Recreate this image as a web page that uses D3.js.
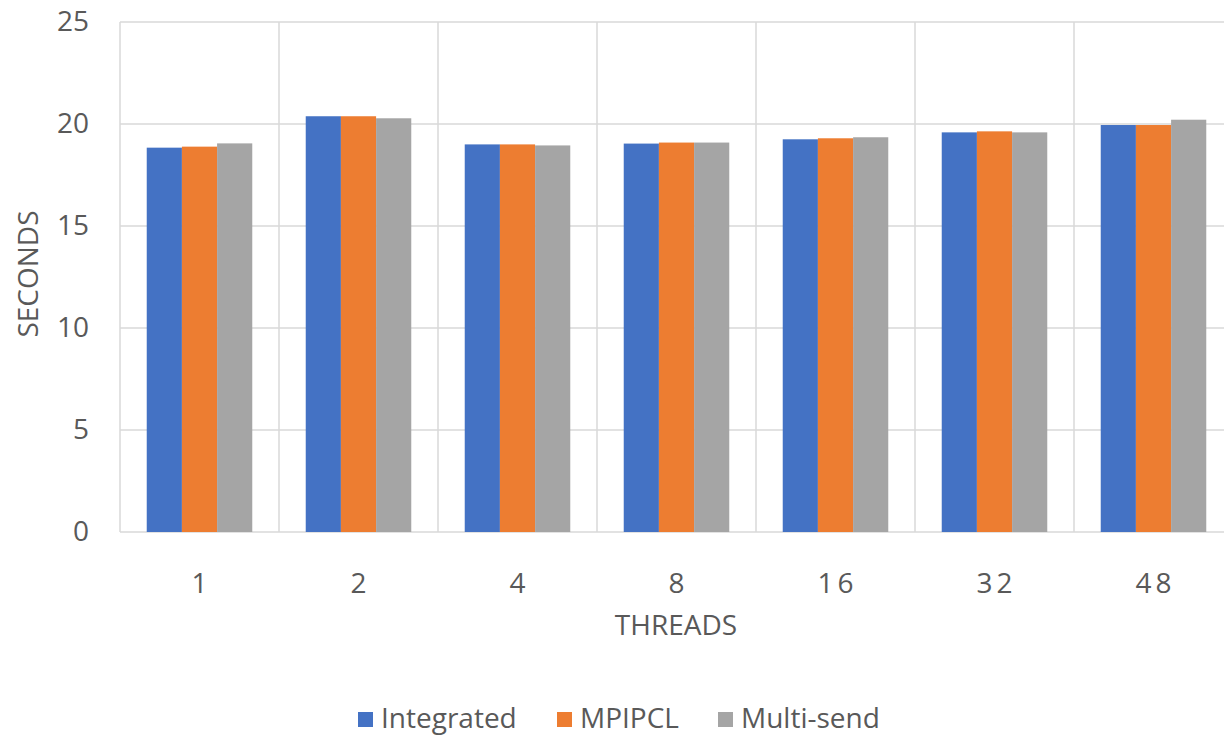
<!DOCTYPE html>
<html>
<head>
<meta charset="utf-8">
<script src="https://cdn.jsdelivr.net/npm/d3@7"></script>
<style>
  body { margin: 0; background: #fff; }
  text { font-family: "Open Sans", sans-serif; fill: #595959; }
</style>
</head>
<body>
<svg id="chart"></svg>
<script>
const CATEGORIES = ["1", "2", "4", "8", "16", "32", "48"];
const SERIES = ["Integrated", "MPIPCL", "Multi-send"];
const INTEGRATED = [18.84, 20.38, 19.00, 19.04, 19.25, 19.59, 19.95];
const MPIPCL     = [18.89, 20.38, 19.00, 19.09, 19.30, 19.64, 19.95];
const MULTISEND  = [19.05, 20.28, 18.95, 19.09, 19.35, 19.59, 20.21];
const Y_TICKS = [0, 5, 10, 15, 20, 25];
const COLORS = ["#4472C4", "#ED7D31", "#A5A5A5"];

const WIDTH = 1224;
const HEIGHT = 736;
const LEFT = 120, TOP = 22, BOTTOM = 532;
const CAT_W = 159;
const FONT = "28px";

let values = [INTEGRATED, MPIPCL, MULTISEND];
let rows = CATEGORIES.map(function(c, i){
    return {cat: c, vals: values.map(function(v){ return v[i]; })};
});

let svg = d3.select("#chart")
    .attr("width", WIDTH)
    .attr("height", HEIGHT);

let xScale = d3.scaleBand()
    .domain(CATEGORIES)
    .range([LEFT, LEFT + CAT_W * CATEGORIES.length]);

let xInner = d3.scaleBand()
    .domain(SERIES)
    .range([0, CAT_W])
    .paddingInner(0)
    .paddingOuter(0.76);

let yScale = d3.scaleLinear()
    .domain([0, 25])
    .range([BOTTOM, TOP]);

// horizontal gridlines
svg.selectAll("line.h")
    .data(Y_TICKS)
    .enter()
    .append("line")
    .attr("x1", LEFT)
    .attr("x2", WIDTH + 20)
    .attr("y1", function(d){ return yScale(d); })
    .attr("y2", function(d){ return yScale(d); })
    .style("stroke", "#D9D9D9")
    .style("stroke-width", 1.5);

// vertical gridlines at category boundaries
svg.selectAll("line.v")
    .data(CATEGORIES)
    .enter()
    .append("line")
    .attr("x1", function(d){ return xScale(d); })
    .attr("x2", function(d){ return xScale(d); })
    .attr("y1", TOP)
    .attr("y2", BOTTOM)
    .style("stroke", "#D9D9D9")
    .style("stroke-width", 1.5);

// bars
let groups = svg.selectAll("g.cat")
    .data(rows)
    .enter()
    .append("g")
    .attr("transform", function(d){ return "translate(" + xScale(d.cat) + ",0)"; });

groups.selectAll("rect")
    .data(function(d){ return d.vals.map(function(v, i){ return {s: SERIES[i], v: v, i: i}; }); })
    .enter()
    .append("rect")
    .attr("x", function(d){ return xInner(d.s); })
    .attr("y", function(d){ return yScale(d.v); })
    .attr("width", xInner.bandwidth())
    .attr("height", function(d){ return BOTTOM - yScale(d.v); })
    .style("fill", function(d){ return COLORS[d.i]; });

// y tick labels
svg.selectAll("text.yt")
    .data(Y_TICKS)
    .enter()
    .append("text")
    .text(function(d){ return d; })
    .attr("x", 89)
    .attr("y", function(d){ return yScale(d) + 9; })
    .attr("font-size", FONT)
    .style("text-anchor", "end");

// x tick labels
svg.selectAll("text.xt")
    .data(CATEGORIES)
    .enter()
    .append("text")
    .text(function(d){ return d; })
    .attr("x", function(d){ return xScale(d) + CAT_W / 2 + 2; })
    .attr("y", 593)
    .attr("font-size", FONT)
    .style("letter-spacing", "4px")
    .style("text-anchor", "middle");

// axis titles
svg.append("text")
    .text("THREADS")
    .attr("x", 676)
    .attr("y", 635)
    .attr("font-size", FONT)
    .style("text-anchor", "middle");

svg.append("text")
    .text("SECONDS")
    .attr("transform", "translate(38,274) rotate(-90)")
    .attr("font-size", FONT)
    .style("text-anchor", "middle");

// legend
const LEGEND_X = [358, 557, 718];
let legend = svg.selectAll("g.leg")
    .data(SERIES)
    .enter()
    .append("g")
    .attr("transform", function(d, i){ return "translate(" + LEGEND_X[i] + ",728)"; });

legend.append("rect")
    .attr("x", 0)
    .attr("y", -16)
    .attr("width", 15)
    .attr("height", 15)
    .style("fill", function(d, i){ return COLORS[i]; });

legend.append("text")
    .text(function(d){ return d; })
    .attr("x", 23)
    .attr("y", 0)
    .attr("font-size", FONT);
</script>
</body>
</html>
